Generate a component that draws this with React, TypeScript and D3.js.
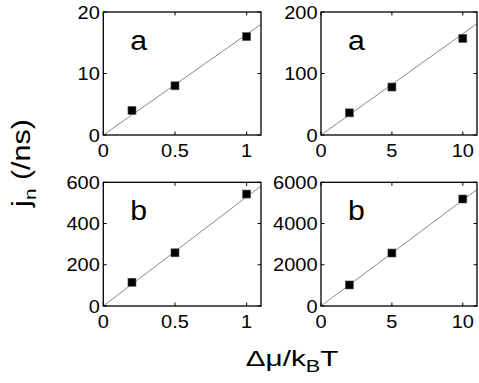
import React, { useRef, useEffect } from 'react'
import * as d3 from 'd3'

// data
const xSmall = [0.2, 0.5, 1]
const xLarge = [2, 5, 10]
const yTopLeft = [4, 8, 16]
const yTopRight = [36, 78, 157]
const yBottomLeft = [115, 258, 543]
const yBottomRight = [1020, 2570, 5190]

// linear fit lines (end points)
const fitSmallX = [0, 1.1]
const fitLargeX = [0, 11]
const fitTopLeft = [0, 18]
const fitTopRight = [0, 181]
const fitBottomLeft = [0, 582]
const fitBottomRight = [0, 5650]

const ticksSmallX = [0, 0.5, 1]
const ticksLargeX = [0, 5, 10]
const ticksTopLeftY = [0, 10, 20]
const ticksTopRightY = [0, 100, 200]
const ticksBottomLeftY = [0, 200, 400, 600]
const ticksBottomRightY = [0, 2000, 4000, 6000]

const panelLabels = ['a', 'a', 'b', 'b']

const FONT = '"Liberation Sans", Arial, Helvetica, sans-serif'

const App = () => {
    const element = useRef(null)

    useEffect(() => {
        const root = d3.select(element.current)
        root.selectAll('*').remove()

        const svg = root.append('svg')
            .attr('width', 479)
            .attr('height', 383)
            .style('position', 'absolute')
            .style('left', '0px')
            .style('top', '0px')
            .style('background', '#fff')
            .attr('font-family', FONT)

        const panels = [
            { x0: 103.3, x1: 261, y0: 12, y1: 135, xd: [0, 1.1], yd: [0, 20], xs: xSmall, ys: yTopLeft, fx: fitSmallX, fy: fitTopLeft, xt: ticksSmallX, yt: ticksTopLeftY },
            { x0: 321, x1: 477, y0: 12, y1: 135, xd: [0, 11], yd: [0, 200], xs: xLarge, ys: yTopRight, fx: fitLargeX, fy: fitTopRight, xt: ticksLargeX, yt: ticksTopRightY },
            { x0: 103.3, x1: 261, y0: 182.3, y1: 306, xd: [0, 1.1], yd: [0, 600], xs: xSmall, ys: yBottomLeft, fx: fitSmallX, fy: fitBottomLeft, xt: ticksSmallX, yt: ticksBottomLeftY },
            { x0: 321, x1: 477, y0: 182.3, y1: 306, xd: [0, 11], yd: [0, 6000], xs: xLarge, ys: yBottomRight, fx: fitLargeX, fy: fitBottomRight, xt: ticksLargeX, yt: ticksBottomRightY },
        ]

        const tickLen = 3.5

        panels.forEach((p, i) => {
            const x = d3.scaleLinear().domain(p.xd).range([p.x0, p.x1])
            const y = d3.scaleLinear().domain(p.yd).range([p.y1, p.y0])
            const g = svg.append('g')

            // fit line
            const line = d3.line<number>()
                .x((d, k) => x(p.fx[k]))
                .y(d => y(d))
            g.append('path')
                .attr('d', line(p.fy))
                .attr('fill', 'none')
                .attr('stroke', '#8a8a8a')
                .attr('stroke-width', 1)

            // markers
            g.selectAll('rect.pt')
                .data(p.ys)
                .enter()
                .append('rect')
                .attr('x', (d, k) => x(p.xs[k]) - 4)
                .attr('y', d => y(d) - 4)
                .attr('width', 8)
                .attr('height', 8)
                .attr('fill', '#000')
                .attr('stroke', '#555')
                .attr('stroke-width', 0.6)

            // box
            g.append('rect')
                .attr('x', p.x0)
                .attr('y', p.y0)
                .attr('width', p.x1 - p.x0)
                .attr('height', p.y1 - p.y0)
                .attr('fill', 'none')
                .attr('stroke', '#000')
                .attr('stroke-width', 1.3)

            // inward ticks on all four sides
            p.xt.forEach(t => {
                g.append('line')
                    .attr('x1', x(t)).attr('x2', x(t))
                    .attr('y1', p.y1).attr('y2', p.y1 - tickLen)
                    .attr('stroke', '#000').attr('stroke-width', 1)
                g.append('line')
                    .attr('x1', x(t)).attr('x2', x(t))
                    .attr('y1', p.y0).attr('y2', p.y0 + tickLen)
                    .attr('stroke', '#000').attr('stroke-width', 1)
                g.append('text')
                    .attr('transform', `translate(${x(t)},${p.y1 + 22}) scale(1.08,1)`)
                    .attr('text-anchor', 'middle')
                    .attr('font-size', 18.5)
                    .text(d3.format('~g')(t))
            })
            p.yt.forEach(t => {
                g.append('line')
                    .attr('x1', p.x0).attr('x2', p.x0 + tickLen)
                    .attr('y1', y(t)).attr('y2', y(t))
                    .attr('stroke', '#000').attr('stroke-width', 1)
                g.append('line')
                    .attr('x1', p.x1).attr('x2', p.x1 - tickLen)
                    .attr('y1', y(t)).attr('y2', y(t))
                    .attr('stroke', '#000').attr('stroke-width', 1)
                g.append('text')
                    .attr('transform', `translate(${p.x0 - 3.5},${y(t) + 6.5}) scale(1.08,1)`)
                    .attr('text-anchor', 'end')
                    .attr('font-size', 18.5)
                    .text(d3.format('~g')(t))
            })

            // panel letter
            g.append('text')
                .attr('transform', `translate(${p.x0 + 27},${p.y0 + 38}) scale(1.12,1)`)
                .attr('font-size', 27)
                .text(panelLabels[i])
        })

        // y axis title
        const yt = svg.append('text')
            .attr('transform', 'translate(30,163) rotate(-90) scale(1.22,1)')
            .attr('text-anchor', 'middle')
            .attr('font-size', 25)
        yt.append('tspan').text('j')
        yt.append('tspan').attr('font-size', 17).attr('dy', 6).text('n')
        yt.append('tspan').attr('dy', -6).text(' (/ns)')

        // x axis title
        const xt = svg.append('text')
            .attr('transform', 'translate(292,366) scale(1.35,1)')
            .attr('text-anchor', 'middle')
            .attr('font-size', 22)
        xt.append('tspan').text('Δμ/k')
        xt.append('tspan').attr('font-size', 16).attr('dy', 6).text('B')
        xt.append('tspan').attr('dy', -6).text('T')

        return () => {
            root.selectAll('*').remove()
        }
    }, [])

    return <div ref={element}></div>
}

export default App
